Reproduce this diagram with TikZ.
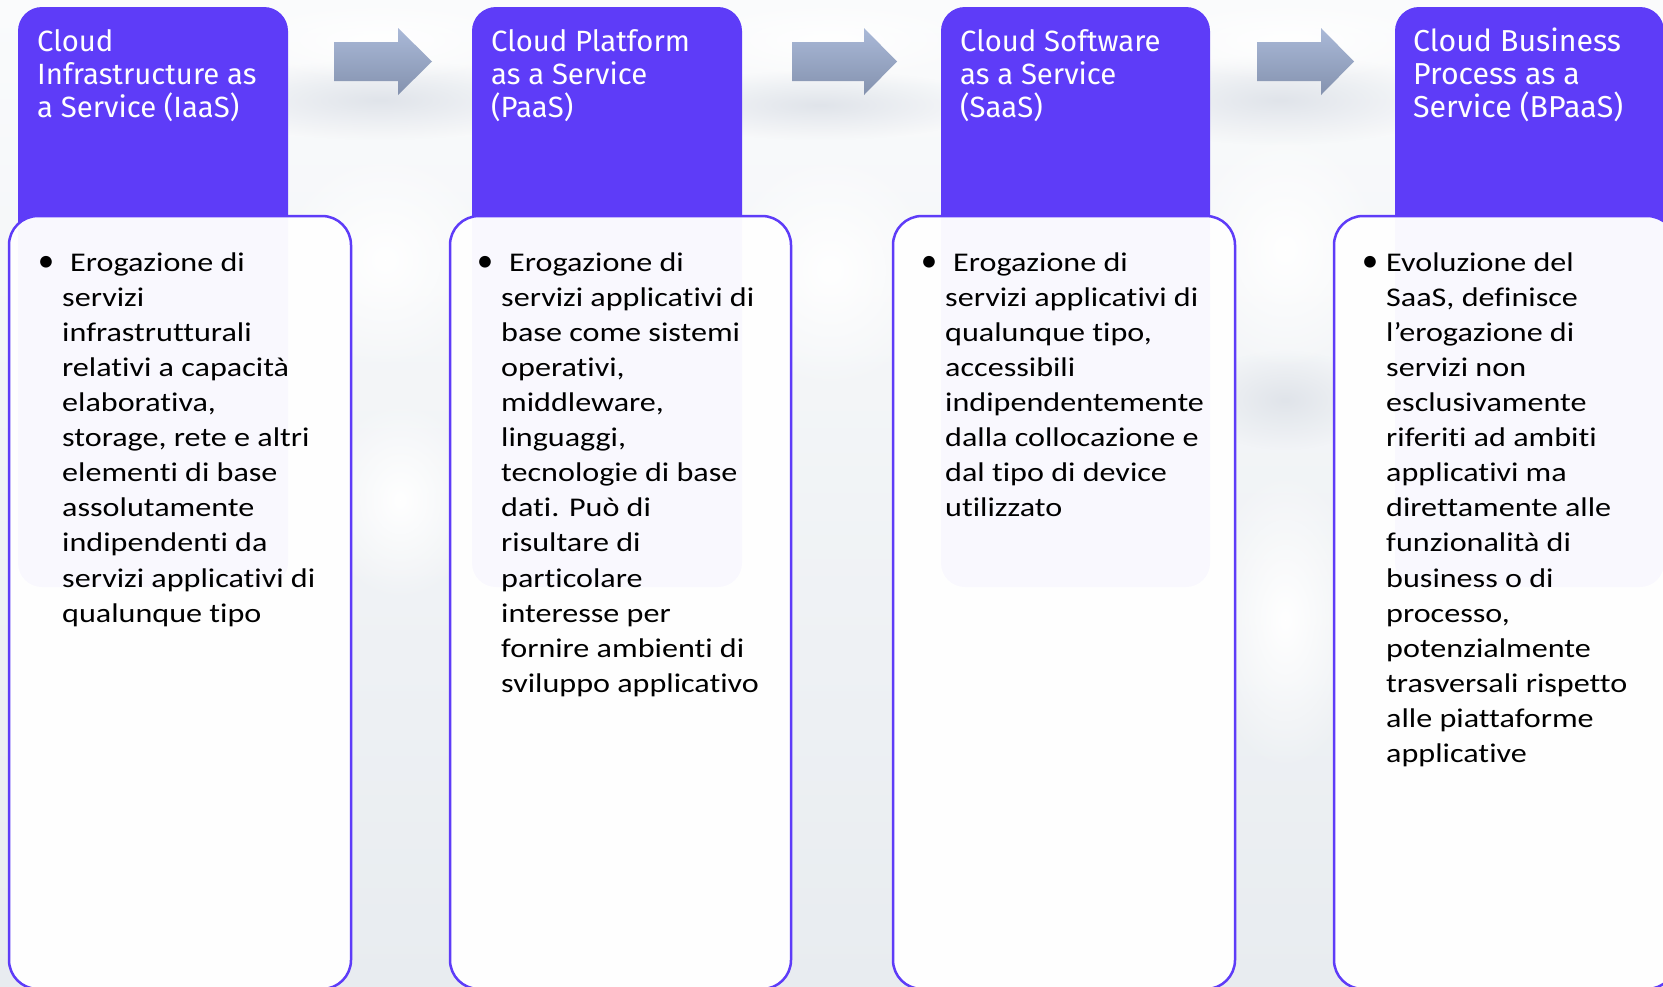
\documentclass[tikz,border=0pt]{standalone}
\usepackage{fontspec}
\setmainfont{Carlito}[Ligatures={NoCommon}, FakeStretch=1.19]
\newfontfamily\bulletfont{Carlito}
\newfontfamily\headfont{Fira Sans}
\usetikzlibrary{fadings}

\definecolor{hdr}{RGB}{94,60,248}
\definecolor{skytop}{RGB}{250,251,252}
\definecolor{skybot}{RGB}{232,236,240}
\definecolor{skyhaze}{RGB}{224,228,234}
\definecolor{arrowtop}{RGB}{170,185,216}
\definecolor{arrowbot}{RGB}{132,146,174}

\tikzfading[name=softpuff, inner color=transparent!0, outer color=transparent!100]

\tikzset{
  header/.style={fill=hdr, rounded corners=24pt},
  panel/.style={draw=hdr, line width=2.5pt, fill=white, fill opacity=0.965, rounded corners=29pt},
  headtext/.style={anchor=north west, inner sep=0pt, align=left, text=white,
    font=\headfont\fontsize{29.3}{33}\selectfont},
  bodytext/.style={anchor=north west, inner sep=0pt, align=left, text=black,
    font=\fontsize{27}{35.1}\selectfont},
  bullet/.style={anchor=base, inner sep=0pt, text=black, font=\bulletfont\fontsize{33}{35}\selectfont},
  blockarrow/.style={top color=arrowtop, bottom color=arrowbot, draw=none},
  cloudpuff/.style={fill=white, path fading=softpuff},
  hazepuff/.style={fill=skyhaze, path fading=softpuff},
}

\begin{document}
\begin{tikzpicture}[x=1pt, y=-1pt]
\clip (0,0) rectangle (1663,986);

% sky
\shade[top color=skytop, bottom color=skybot] (0,0) rectangle (1663,986);
\fill[hazepuff] (380,100) ellipse (180 and 40);
\fill[hazepuff] (820,105) ellipse (170 and 35);
\fill[hazepuff] (1280,100) ellipse (170 and 45);
\fill[hazepuff] (1285,400) ellipse (90 and 50);
\fill[cloudpuff] (380,40) ellipse (160 and 40);
\fill[cloudpuff] (830,40) ellipse (160 and 40);
\fill[cloudpuff] (1290,40) ellipse (160 and 40);
\fill[cloudpuff] (385,260) ellipse (110 and 110);
\fill[cloudpuff] (830,270) ellipse (110 and 120);
\fill[cloudpuff] (1285,250) ellipse (100 and 120);
\fill[cloudpuff] (400,500) ellipse (80 and 100);
\fill[cloudpuff] (1285,620) ellipse (80 and 150);

% column headers (the lower part shows faintly through the panels)
\fill[header] (18,7)   rectangle (288,587);
\fill[header] (472,7)  rectangle (742,587);
\fill[header] (941,7)  rectangle (1210,587);
\fill[header] (1395,7) rectangle (1664,587);

% block arrows between the headers
\shade[blockarrow] (334,42) -- (398,42) -- (398,28) -- (432,61.5) -- (398,95) -- (398,81) -- (334,81) -- cycle;
\shade[blockarrow] (792,42) -- (864,42) -- (864,28) -- (897,61.5) -- (864,95) -- (864,81) -- (792,81) -- cycle;
\shade[blockarrow] (1257,42) -- (1321,42) -- (1321,28) -- (1354,61.5) -- (1321,95) -- (1321,81) -- (1257,81) -- cycle;

% description panels
\draw[panel] (9,216)    rectangle (351,989);
\draw[panel] (450,216)  rectangle (791,989);
\draw[panel] (893,216)  rectangle (1235,989);
\draw[panel] (1334,216) rectangle (1676,989);

% header titles
\node[headtext] (h1) at (37,27.9)   {\strut Cloud\\Infrastructure as\\a Service (IaaS)};
\node[headtext] (h2) at (491,27.9)  {\strut Cloud Platform\\as a Service\\(PaaS)};
\node[headtext] (h3) at (960,27.9)  {\strut Cloud Software\\as a Service\\(SaaS)};
\node[headtext, font=\headfont\fontsize{30.3}{33}\selectfont] (h4) at (1413,27.9) {\strut Cloud Business\\Process as a\\Service (BPaaS)};

% bullets
\node[bullet] (b1) at (46,271)   {•};
\node[bullet] (b2) at (485,271)  {•};
\node[bullet] (b3) at (929,271)  {•};
\node[bullet] (b4) at (1370,271) {•};

% panel texts
\node[bodytext] (t1) at (62,246.4) {\strut\hspace{8pt}Erogazione di\\servizi\\infrastrutturali\\relativi a capacità\\elaborativa,\\storage, rete e altri\\elementi di base\\assolutamente\\indipendenti da\\servizi applicativi di\\qualunque tipo};
\node[bodytext] (t2) at (501,246.4) {\strut\hspace{8pt}Erogazione di\\servizi applicativi di\\base come sistemi\\operativi,\\middleware,\\linguaggi,\\tecnologie di base\\dati. Può di\\risultare di\\particolare\\interesse per\\fornire ambienti di\\sviluppo applicativo};
\node[bodytext] (t3) at (945,246.4) {\strut\hspace{8pt}Erogazione di\\servizi applicativi di\\qualunque tipo,\\accessibili\\indipendentemente\\dalla collocazione e\\dal tipo di device\\utilizzato};
\node[bodytext] (t4) at (1386,246.4) {\strut Evoluzione del\\SaaS, definisce\\l’erogazione di\\servizi non\\esclusivamente\\riferiti ad ambiti\\applicativi ma\\direttamente alle\\funzionalità di\\business o di\\processo,\\potenzialmente\\trasversali rispetto\\alle piattaforme\\applicative};
\end{tikzpicture}
\end{document}
